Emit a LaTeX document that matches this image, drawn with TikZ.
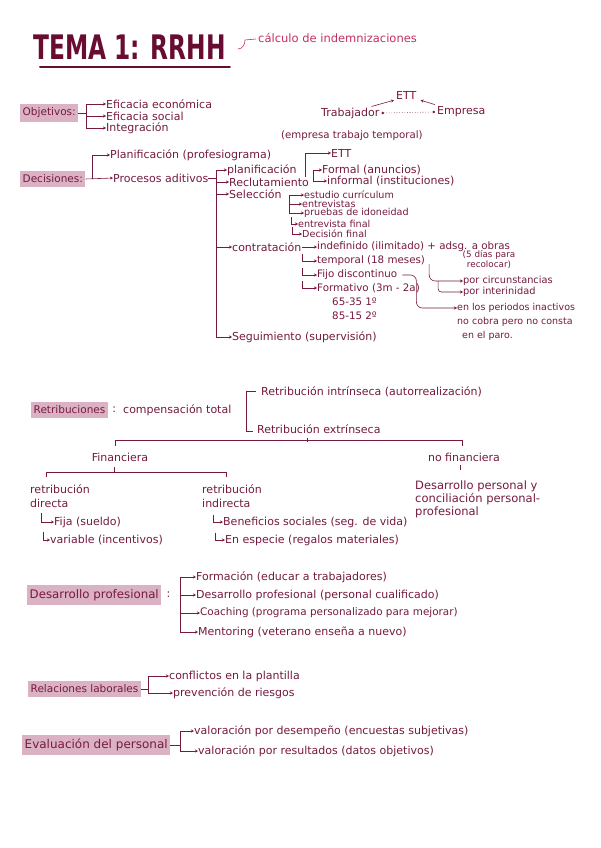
\documentclass[tikz,border=0pt]{standalone}
\usepackage{fontspec}
\usepackage{graphicx}
\setmainfont{DejaVu Sans}
\usetikzlibrary{arrows.meta,positioning}
\definecolor{tinta}{RGB}{118,26,64}
\definecolor{titulo}{RGB}{104,12,50}
\definecolor{rosa}{RGB}{196,48,98}
\definecolor{marca}{RGB}{218,178,195}
\begin{document}
\begin{tikzpicture}[x=1pt,y=-1pt,font=\fontsize{11}{13}\selectfont,
  txt/.style={anchor=west,inner sep=0pt,text=tinta},
  peq/.style={txt,font=\fontsize{9.6}{11}\selectfont},
  med/.style={txt,font=\fontsize{10.3}{12}\selectfont},
  etiq/.style={txt,fill=marca,inner xsep=2.5pt,inner ysep=4pt,font=\fontsize{10.5}{12}\selectfont},
  linea/.style={draw=tinta,line width=0.6pt},
  flecha/.style={linea,-{Stealth[length=3pt,width=3pt]}}]
  \fill[white] (0,0) rectangle (600,848);
  \useasboundingbox (0,0) rectangle (600,848);

  % titulo
  \node[txt,text=titulo,font=\fontsize{23.3}{26}\selectfont\bfseries] (tema) at (33,47) {\scalebox{1}[1.45]{TEMA 1: RRHH}};
  \draw[titulo,line width=2pt,line cap=round] ([shift={(7,7)}]tema.south west) -- ([shift={(4,7)}]tema.south east);
  \node[txt,text=rosa,font=\fontsize{11.5}{13}\selectfont] (calc) at (258,38) {cálculo de indemnizaciones};
  \draw[rosa,line width=0.6pt] ([shift={(-20,11)}]calc.west) to[out=0,in=-90] ([shift={(-13,2)}]calc.west) -- ([shift={(-2,1)}]calc.west);

  % objetivos
  \node[etiq] (obj) at (20,113) {Objetivos:};
  \node[txt] (ef1) at (106,104) {Eficacia económica};
  \node[txt] (ef2) at (106,116) {Eficacia social};
  \node[txt] (ef3) at (106,128) {Integración};
  \draw[linea] (obj.east) -- ++(8,0) coordinate (objb);
  \draw[flecha] (objb) |- (ef1.west);
  \draw[flecha] (objb) |- (ef2.west);
  \draw[flecha] (objb) |- (ef3.west);

  % ETT
  \node[txt] (ett1) at (396,95) {ETT};
  \node[txt] (trab) at (321,113) {Trabajador};
  \node[txt] (emp) at (437,112) {Empresa};
  \node[txt,font=\fontsize{10.2}{12}\selectfont] (ettdef) at (281,136) {(empresa trabajo temporal)};
  \draw[linea,dotted,{Circle[length=2.5pt]}-{Circle[length=2.5pt]}] ([shift={(2,0)}]trab.east) -- ([shift={(-2,0)}]emp.west);
  \draw[flecha] ([shift={(-8,-1)}]trab.north east) -- ([shift={(-2,1)}]ett1.south west);
  \draw[flecha] ([shift={(-2,-2)}]emp.north west) -- ([shift={(4,1)}]ett1.south east);

  % decisiones
  \node[etiq] (dec) at (20,179) {Decisiones:};
  \node[txt] (plan) at (110,155) {Planificación (profesiograma)};
  \node[txt] (proc) at (113,178) {Procesos aditivos};
  \draw[flecha] (dec.east) -- (proc.west);
  \draw[flecha] ([shift={(7,0)}]dec.east) |- (plan.west);

  \node[txt] (pla2) at (227,170) {planificación};
  \node[txt] (recl) at (229,182) {Reclutamiento};
  \node[txt] (sel) at (229,194) {Selección};
  \node[txt] (contr) at (232,247) {contratación};
  \node[txt] (segu) at (232,337) {Seguimiento (supervisión)};
  \coordinate (procb) at ([shift={(8,0)}]proc.east);
  \draw[linea] (proc.east) -- (procb);
  \draw[flecha] (procb) |- (pla2.west);
  \draw[flecha] (procb) |- (recl.west);
  \draw[flecha] (procb) |- (sel.west);
  \draw[flecha] (procb) |- (contr.west);
  \draw[flecha] (procb) |- (segu.west);

  % reclutamiento
  \node[txt] (ett2) at (331,153) {ETT};
  \node[txt] (form) at (322,170) {Formal (anuncios)};
  \node[txt] (inf) at (327,181) {informal (instituciones)};
  \draw[flecha] ([shift={(-4,-5)}]recl.east) |- (ett2.west);
  \draw[flecha] ([shift={(4,0)}]recl.east) |- (form.west);
  \draw[flecha] ([shift={(4,0)}]recl.east) |- (inf.west);

  % seleccion
  \node[peq] (cv) at (304,195) {estudio currículum};
  \node[peq] (entr) at (302,204) {entrevistas};
  \node[peq] (prue) at (304,213) {pruebas de idoneidad};
  \node[peq] (entf) at (298,224) {entrevista final};
  \node[peq] (decf) at (302,234) {Decisión final};
  \coordinate (selb) at ([shift={(7,1)}]sel.east);
  \draw[flecha] (selb) |- (cv.west);
  \draw[flecha] (selb) |- (entr.west);
  \draw[flecha] (selb) |- (prue.west);
  \coordinate (h1) at (selb |- entf.west);
  \coordinate (h2) at (selb |- decf.west);
  \draw[flecha] ([shift={(2,-7)}]h1) |- (entf.west);
  \draw[flecha] ([shift={(3,-7)}]h2) |- (decf.west);

  % contratacion
  \node[med] (indef) at (317,247) {indefinido (ilimitado) + adsg. a obras};
  \node[med] (temp) at (317,261) {temporal (18 meses)};
  \node[peq,font=\fontsize{8.8}{10}\selectfont,anchor=center,align=center] (dias) at (489,260) {(5 días para\\recolocar)};
  \node[med] (fijo) at (317,275) {Fijo discontinuo};
  \node[med] (formv) at (317,288) {Formativo (3m - 2a)};
  \node[med] (pc1) at (332,302) {65-35 1º};
  \node[med] (pc2) at (332,316) {85-15 2º};
  \draw[flecha] (contr.east) -- (indef.west);
  \coordinate (h3) at (contr.east |- temp.west);
  \coordinate (h4) at (contr.east |- fijo.west);
  \coordinate (h5) at (contr.east |- formv.west);
  \draw[flecha] ([shift={(1,-7)}]h3) |- (temp.west);
  \draw[flecha] ([shift={(1,-7)}]h4) |- (fijo.west);
  \draw[flecha] ([shift={(1,-7)}]h5) |- (formv.west);

  \node[peq,font=\fontsize{9.8}{11}\selectfont] (circ) at (463,281) {por circunstancias};
  \node[peq,font=\fontsize{9.8}{11}\selectfont] (inter) at (463,292) {por interinidad};
  \coordinate (tb) at (temp.east |- circ.west);
  \draw[flecha,rounded corners=6pt] ([shift={(4,3)}]temp.east) |- (circ.west);
  \draw[flecha,rounded corners=3pt] ([shift={(13,0)}]tb) |- (inter.west);

  \node[txt,font=\fontsize{9.5}{11}\selectfont] (paro1) at (457,308) {en los periodos inactivos};
  \node[txt,font=\fontsize{9.5}{11}\selectfont] (paro2) at (457,322) {no cobra pero no consta};
  \node[txt,font=\fontsize{9.5}{11}\selectfont] (paro3) at (462,336) {en el paro.};
  \draw[flecha,rounded corners=6pt] ([shift={(5,0)}]fijo.east) -- ++(14,0) |- (paro1.west);

  % retribuciones
  \node[etiq] (retr) at (31,410) {Retribuciones};
  \node[txt,right=4pt of retr] (retrp) {:};
  \node[txt] (comp) at (123,410) {compensación total};
  \node[txt] (intr) at (261,392) {Retribución intrínseca (autorrealización)};
  \node[txt] (extr) at (257,429) {Retribución extrínseca};
  \draw[linea] ([shift={(-5,-1)}]intr.west) -- ++(-10,0) |- ([shift={(-4,2)}]extr.west);

  \node[txt,anchor=center] (fin) at (120,457) {Financiera};
  \node[txt,anchor=center] (nofin) at (464,457) {no financiera};
  \draw[linea] ([shift={(-12,4)}]extr.south) -- ++(0,4);
  \draw[linea] ([shift={(-5,-7)}]fin.north) |- ([shift={(-2,-12)}]nofin.north) -- ([shift={(-2,-7)}]nofin.north);

  \node[txt,align=left,font=\fontsize{11}{14}\selectfont] (dir) at (30,496) {retribución\\directa};
  \node[txt,align=left,font=\fontsize{11}{14}\selectfont] (indir) at (202,496) {retribución\\indirecta};
  \draw[linea] ([shift={(-6,6)}]fin.south) -- ++(0,5);
  \draw[linea] ([shift={(-14,-7)}]dir.north) |- ([shift={(-6,-12)}]indir.north) -- ([shift={(-6,-7)}]indir.north);
  \draw[linea] ([shift={(-4,4)}]nofin.south) -- ++(0,5);

  \node[txt] (fija) at (54,522) {Fija (sueldo)};
  \node[txt] (var) at (50,540) {variable (incentivos)};
  \node[txt] (benef) at (223,522) {Beneficios sociales (seg. de vida)};
  \node[txt] (esp) at (225,540) {En especie (regalos materiales)};
  \draw[flecha] ([shift={(11,5)}]dir.south west) |- (fija.west);
  \draw[flecha] ([shift={(13,24)}]dir.south west) |- (var.west);
  \draw[flecha] ([shift={(11,7)}]indir.south west) |- (benef.west);
  \draw[flecha] ([shift={(13,25)}]indir.south west) |- (esp.west);

  \node[txt,align=left,font=\fontsize{11.5}{13}\selectfont] (desp) at (415,499) {Desarrollo personal y\\conciliación personal-\\profesional};

  % desarrollo profesional
  \node[etiq,font=\fontsize{11.8}{13}\selectfont] (dpro) at (27,595) {Desarrollo profesional};
  \node[txt,right=5pt of dpro] (dcol) {:};
  \node[txt] (fmc) at (196,577) {Formación (educar a trabajadores)};
  \node[txt] (dprof) at (196,595) {Desarrollo profesional (personal cualificado)};
  \node[txt,font=\fontsize{10.4}{12}\selectfont] (coach) at (200,613) {Coaching (programa personalizado para mejorar)};
  \node[txt] (ment) at (198,632) {Mentoring (veterano enseña a nuevo)};
  \coordinate (dprob) at ([shift={(10,0)}]dcol.east);
  \draw[flecha] (dprob) |- (fmc.west);
  \draw[flecha] (dprob) |- (dprof.west);
  \draw[flecha] (dprob) |- (coach.west);
  \draw[flecha] (dprob) |- (ment.west);

  % relaciones laborales
  \node[etiq] (rel) at (28,689) {Relaciones laborales};
  \node[txt] (conf) at (169,676) {conflictos en la plantilla};
  \node[txt] (prev) at (173,693) {prevención de riesgos};
  \draw[linea] (rel.east) -- ++(7,0) coordinate (relb);
  \draw[flecha] (relb) |- (conf.west);
  \draw[flecha] (relb) |- (prev.west);

  % evaluacion
  \node[etiq,font=\fontsize{12}{13}\selectfont] (eval) at (22,745) {Evaluación del personal};
  \node[txt] (desm) at (194,731) {valoración por desempeño (encuestas subjetivas)};
  \node[txt] (resu) at (198,751) {valoración por resultados (datos objetivos)};
  \draw[linea] (eval.east) -- ++(10,0) coordinate (evb);
  \draw[flecha] (evb) |- (desm.west);
  \draw[flecha] (evb) |- (resu.west);
\end{tikzpicture}
\end{document}
